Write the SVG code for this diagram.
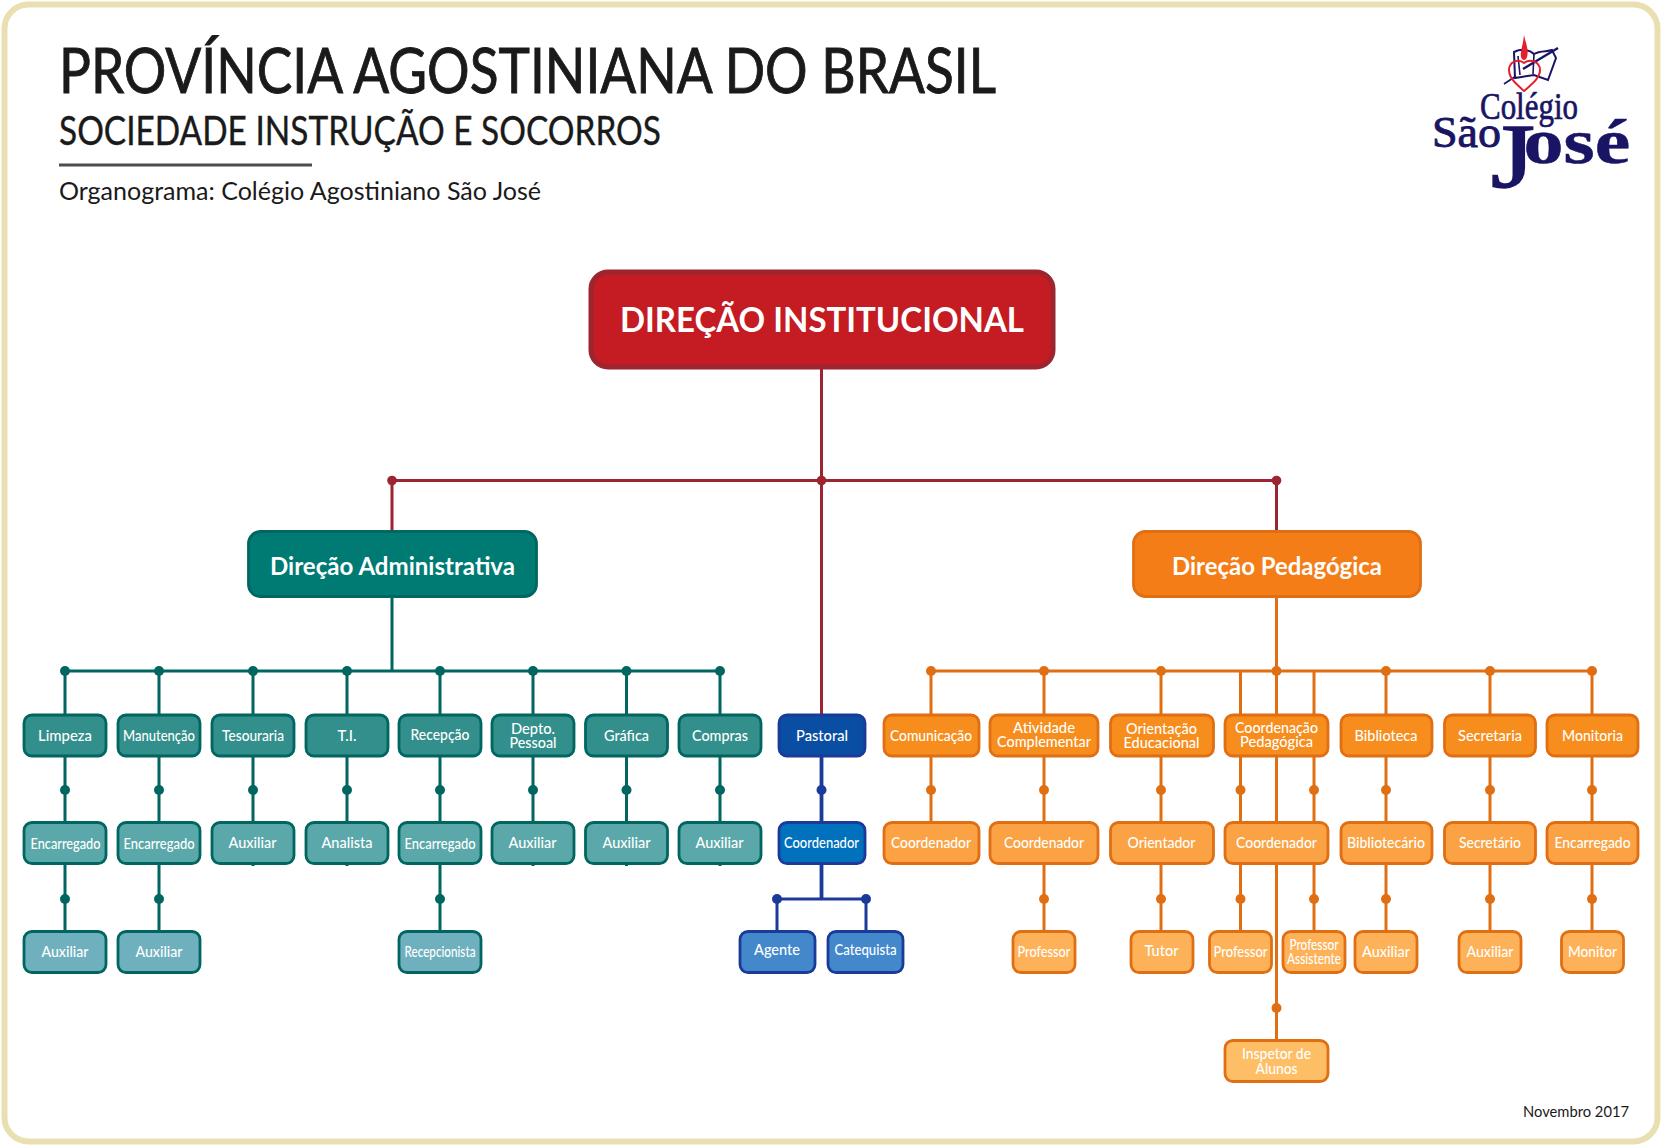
<svg xmlns="http://www.w3.org/2000/svg" width="1662" height="1146" viewBox="0 0 1662 1146">
<style>
text{font-family:"Lato","Noto Sans","Liberation Sans",sans-serif}
.t{fill:#fff;font-size:15px;font-weight:500;text-anchor:middle}
.n rect{stroke-width:2.8}
.a1{fill:#338f8b;stroke:#00665f}.a2{fill:#5aa8a9;stroke:#00665f}.a3{fill:#6eb0bd;stroke:#00665f}
.o1{fill:#f78d1c;stroke:#e06f14}.o2{fill:#fba244;stroke:#e06f14}.o3{fill:#fdb259;stroke:#e06f14}.o4{fill:#fdbe66;stroke:#e06f14}
.b1{fill:#0a4ea3;stroke:#1b3a9a}.b2{fill:#0071bc;stroke:#1b3a9a}.b3{fill:#4488cc;stroke:#1b3a9a}
.c{fill:none;stroke-width:3}
.dt{fill:#00665f}.do{fill:#e06f14}.db{fill:#1b3a9a}.dr{fill:#9c2530}
.h{fill:#1a1a1a}
.lg{fill:#1a1464;stroke:#1a1464;font-family:"Liberation Serif",serif}
</style>
<rect x="4.5" y="4.5" width="1653" height="1137" rx="24" fill="#fff" stroke="#e9dfb0" stroke-width="6"/>
<g id="header">
<text class="h" x="59" y="93" font-size="62" textLength="937" lengthAdjust="spacingAndGlyphs" stroke="#1a1a1a" stroke-width="0.9">PROVÍNCIA AGOSTINIANA DO BRASIL</text>
<text class="h" x="59" y="145" font-size="41" textLength="602" lengthAdjust="spacingAndGlyphs" stroke="#1a1a1a" stroke-width="0.4">SOCIEDADE INSTRUÇÃO E SOCORROS</text>
<rect x="59" y="163.5" width="253" height="3" fill="#4d4d4d"/>
<text class="h" x="59" y="200" font-size="25.5" textLength="482" lengthAdjust="spacingAndGlyphs">Organograma: Colégio Agostiniano São José</text>
<text class="h" x="1523" y="1117" font-size="15" textLength="106" lengthAdjust="spacingAndGlyphs">Novembro 2017</text>
</g>
<g id="logo">
<path d="M1514 52C1522 48 1530 50 1534 54C1540 50 1548 52 1552 50L1556 58L1548 80L1534 75L1515 78Z" fill="none" stroke="#1a1464" stroke-width="2"/>
<path d="M1518 56L1520 75M1534 54L1533 74M1504 84L1516 76" fill="none" stroke="#1a1464" stroke-width="1.6"/>
<path d="M1523 69L1558 48" fill="none" stroke="#1a1464" stroke-width="2.4"/>
<path d="M1524 91C1516 84 1509 78 1509 70C1509 62 1518 58 1524 63C1530 58 1540 62 1540 70C1540 78 1532 84 1524 91Z" fill="none" stroke="#e3202c" stroke-width="2"/>
<path d="M1524 35C1526 44 1529 50 1527 57C1526 61 1522 61 1521 57C1520 51 1523 46 1524 35Z" fill="#e3202c"/>
<text class="lg" x="1480" y="119" font-size="38" textLength="98" lengthAdjust="spacingAndGlyphs" stroke-width="0.7">Colégio</text>
<text class="lg" x="1432" y="147" font-size="45" textLength="69" lengthAdjust="spacingAndGlyphs" stroke-width="0.9">São</text>
<text class="lg" transform="translate(1491,187) scale(1.25,1)" stroke-width="0.5"><tspan font-size="90" stroke-width="1.6">J</tspan><tspan font-size="64" font-weight="700" dx="-9" dy="-24">osé</tspan></text>
</g>
<g id="connectors">
<path class="c" stroke="#9c2530" d="M392 480.5H1276.5M392 480.5V530M1276.5 480.5V530M821.5 369V714"/>
<path class="c" stroke="#00665f" d="M65 671H720M392 598V671M65 671V931M159 671V931M253 671V866M347 671V866M440 671V931M533 671V866M626.5 671V866M720 671V866"/>
<path class="c" stroke="#1b3a9a" style="stroke-width:3.8" d="M821.5 757V899"/>
<path class="c" stroke="#1b3a9a" d="M777 899H866M777 899V931M866 899V931"/>
<path class="c" stroke="#e06f14" d="M931 671H1592M1276.5 598V1040M931 671V822M1044 671V931M1161 671V931M1240.5 671V931M1314 671V931M1386 671V931M1490 671V931M1592 671V931"/>
<g class="dr"><circle cx="392" cy="480.5" r="4.8"/><circle cx="821.5" cy="480.5" r="4.8"/><circle cx="1276.5" cy="480.5" r="4.8"/></g>
<g class="dt"><circle cx="65" cy="671" r="5"/><circle cx="159" cy="671" r="5"/><circle cx="253" cy="671" r="5"/><circle cx="347" cy="671" r="5"/><circle cx="440" cy="671" r="5"/><circle cx="533" cy="671" r="5"/><circle cx="626.5" cy="671" r="5"/><circle cx="720" cy="671" r="5"/>
<circle cx="65" cy="790" r="5"/><circle cx="159" cy="790" r="5"/><circle cx="253" cy="790" r="5"/><circle cx="347" cy="790" r="5"/><circle cx="440" cy="790" r="5"/><circle cx="533" cy="790" r="5"/><circle cx="626.5" cy="790" r="5"/><circle cx="720" cy="790" r="5"/>
<circle cx="65" cy="899" r="5"/><circle cx="159" cy="899" r="5"/><circle cx="440" cy="899" r="5"/></g>
<g class="db"><circle cx="821.5" cy="790" r="5"/><circle cx="777" cy="899" r="5"/><circle cx="866" cy="899" r="5"/></g>
<g class="do"><circle cx="931" cy="671" r="5"/><circle cx="1044" cy="671" r="5"/><circle cx="1161" cy="671" r="5"/><circle cx="1276.5" cy="671" r="5"/><circle cx="1386" cy="671" r="5"/><circle cx="1490" cy="671" r="5"/><circle cx="1592" cy="671" r="5"/>
<circle cx="931" cy="790" r="5"/><circle cx="1044" cy="790" r="5"/><circle cx="1161" cy="790" r="5"/><circle cx="1240.5" cy="790" r="5"/><circle cx="1314" cy="790" r="5"/><circle cx="1386" cy="790" r="5"/><circle cx="1490" cy="790" r="5"/><circle cx="1592" cy="790" r="5"/>
<circle cx="1044" cy="899" r="5"/><circle cx="1161" cy="899" r="5"/><circle cx="1240.5" cy="899" r="5"/><circle cx="1314" cy="899" r="5"/><circle cx="1386" cy="899" r="5"/><circle cx="1490" cy="899" r="5"/><circle cx="1592" cy="899" r="5"/><circle cx="1276.5" cy="1008" r="5"/></g>
</g>
<g id="direcao-institucional" class="n"><rect x="591" y="272" width="462" height="95" rx="17" fill="#c41c22" stroke="#9c2530" style="stroke-width:5"/><text x="822" y="332" font-size="34" font-weight="700" fill="#fff" text-anchor="middle" textLength="404" lengthAdjust="spacingAndGlyphs">DIREÇÃO INSTITUCIONAL</text></g>
<g id="direcao-administrativa" class="n"><rect x="248.5" y="531.5" width="288" height="65" rx="12" fill="#007b74" stroke="#00665f"/><text x="392.5" y="575" font-size="24" font-weight="700" fill="#fff" text-anchor="middle" textLength="245" lengthAdjust="spacingAndGlyphs">Direção Administrativa</text></g>
<g id="direcao-pedagogica" class="n"><rect x="1133.5" y="531.5" width="287" height="65" rx="12" fill="#f47d18" stroke="#e06f14"/><text x="1277" y="575" font-size="24" font-weight="700" fill="#fff" text-anchor="middle" textLength="210" lengthAdjust="spacingAndGlyphs">Direção Pedagógica</text></g>

<g id="limpeza" class="n"><rect class="a1" x="24" y="715" width="82" height="41" rx="8"/><text class="t" x="65" y="741" textLength="54" lengthAdjust="spacingAndGlyphs">Limpeza</text></g>
<g id="manutencao" class="n"><rect class="a1" x="118" y="715" width="82" height="41" rx="8"/><text class="t" x="159" y="741" textLength="72" lengthAdjust="spacingAndGlyphs">Manutenção</text></g>
<g id="tesouraria" class="n"><rect class="a1" x="212" y="715" width="82" height="41" rx="8"/><text class="t" x="253" y="741" textLength="62" lengthAdjust="spacingAndGlyphs">Tesouraria</text></g>
<g id="ti" class="n"><rect class="a1" x="306" y="715" width="82" height="41" rx="8"/><text class="t" x="347" y="741" textLength="19" lengthAdjust="spacingAndGlyphs">T.I.</text></g>
<g id="recepcao" class="n"><rect class="a1" x="399" y="715" width="82" height="41" rx="8"/><text class="t" x="440" y="740" textLength="59" lengthAdjust="spacingAndGlyphs">Recepção</text></g>
<g id="depto-pessoal" class="n"><rect class="a1" x="492" y="715" width="82" height="41" rx="8"/><text class="t" x="533" y="734" textLength="44" lengthAdjust="spacingAndGlyphs">Depto.</text><text class="t" x="533" y="748" textLength="47" lengthAdjust="spacingAndGlyphs">Pessoal</text></g>
<g id="grafica" class="n"><rect class="a1" x="585.5" y="715" width="82" height="41" rx="8"/><text class="t" x="626.5" y="741" textLength="45" lengthAdjust="spacingAndGlyphs">Gráfica</text></g>
<g id="compras" class="n"><rect class="a1" x="679" y="715" width="82" height="41" rx="8"/><text class="t" x="720" y="741" textLength="56" lengthAdjust="spacingAndGlyphs">Compras</text></g>

<g id="encarregado-1" class="n"><rect class="a2" x="24" y="822.5" width="82" height="41" rx="8"/><text class="t" x="65.5" y="849" textLength="70" lengthAdjust="spacingAndGlyphs">Encarregado</text></g>
<g id="encarregado-2" class="n"><rect class="a2" x="118" y="822.5" width="82" height="41" rx="8"/><text class="t" x="159" y="849" textLength="71" lengthAdjust="spacingAndGlyphs">Encarregado</text></g>
<g id="auxiliar-tes" class="n"><rect class="a2" x="212" y="822.5" width="82" height="41" rx="8"/><text class="t" x="252.5" y="848" textLength="48" lengthAdjust="spacingAndGlyphs">Auxiliar</text></g>
<g id="analista" class="n"><rect class="a2" x="306" y="822.5" width="82" height="41" rx="8"/><text class="t" x="347" y="848" textLength="51" lengthAdjust="spacingAndGlyphs">Analista</text></g>
<g id="encarregado-3" class="n"><rect class="a2" x="399" y="822.5" width="82" height="41" rx="8"/><text class="t" x="440" y="849" textLength="71" lengthAdjust="spacingAndGlyphs">Encarregado</text></g>
<g id="auxiliar-dep" class="n"><rect class="a2" x="492" y="822.5" width="82" height="41" rx="8"/><text class="t" x="532.5" y="848" textLength="48" lengthAdjust="spacingAndGlyphs">Auxiliar</text></g>
<g id="auxiliar-gra" class="n"><rect class="a2" x="585.5" y="822.5" width="82" height="41" rx="8"/><text class="t" x="626.5" y="848" textLength="48" lengthAdjust="spacingAndGlyphs">Auxiliar</text></g>
<g id="auxiliar-com" class="n"><rect class="a2" x="679" y="822.5" width="82" height="41" rx="8"/><text class="t" x="719.5" y="848" textLength="48" lengthAdjust="spacingAndGlyphs">Auxiliar</text></g>

<g id="auxiliar-lim" class="n"><rect class="a3" x="24" y="931.5" width="82" height="41" rx="8"/><text class="t" x="65" y="957" textLength="47" lengthAdjust="spacingAndGlyphs">Auxiliar</text></g>
<g id="auxiliar-man" class="n"><rect class="a3" x="118" y="931.5" width="82" height="41" rx="8"/><text class="t" x="159" y="957" textLength="47" lengthAdjust="spacingAndGlyphs">Auxiliar</text></g>
<g id="recepcionista" class="n"><rect class="a3" x="399" y="931.5" width="82" height="41" rx="8"/><text class="t" x="440" y="957" textLength="71" lengthAdjust="spacingAndGlyphs">Recepcionista</text></g>

<g id="pastoral" class="n"><rect class="b1" x="779" y="715" width="86" height="41" rx="8"/><text class="t" x="822" y="741" textLength="52" lengthAdjust="spacingAndGlyphs">Pastoral</text></g>
<g id="coordenador-pas" class="n"><rect class="b2" x="779" y="822.5" width="86" height="41" rx="8"/><text class="t" x="821.5" y="848" textLength="75" lengthAdjust="spacingAndGlyphs">Coordenador</text></g>
<g id="agente" class="n"><rect class="b3" x="740" y="931.5" width="75" height="41" rx="8"/><text class="t" x="777" y="955" textLength="46" lengthAdjust="spacingAndGlyphs">Agente</text></g>
<g id="catequista" class="n"><rect class="b3" x="828" y="931.5" width="75" height="41" rx="8"/><text class="t" x="865.5" y="955" textLength="62" lengthAdjust="spacingAndGlyphs">Catequista</text></g>

<g id="comunicacao" class="n"><rect class="o1" x="884" y="715" width="95" height="41" rx="8"/><text class="t" x="931" y="741" textLength="82" lengthAdjust="spacingAndGlyphs">Comunicação</text></g>
<g id="atividade" class="n"><rect class="o1" x="990" y="715" width="108" height="41" rx="8"/><text class="t" x="1044" y="733" textLength="62" lengthAdjust="spacingAndGlyphs">Atividade</text><text class="t" x="1044" y="747" textLength="94" lengthAdjust="spacingAndGlyphs">Complementar</text></g>
<g id="orientacao" class="n"><rect class="o1" x="1110.5" y="715" width="103" height="41" rx="8"/><text class="t" x="1161.5" y="734" textLength="71" lengthAdjust="spacingAndGlyphs">Orientação</text><text class="t" x="1161.5" y="748" textLength="76" lengthAdjust="spacingAndGlyphs">Educacional</text></g>
<g id="coordenacao" class="n"><rect class="o1" x="1225" y="715" width="103" height="41" rx="8"/><text class="t" x="1276.5" y="733" textLength="83" lengthAdjust="spacingAndGlyphs">Coordenação</text><text class="t" x="1276.5" y="747" textLength="73" lengthAdjust="spacingAndGlyphs">Pedagógica</text></g>
<g id="biblioteca" class="n"><rect class="o1" x="1341" y="715" width="91" height="41" rx="8"/><text class="t" x="1386" y="741" textLength="63" lengthAdjust="spacingAndGlyphs">Biblioteca</text></g>
<g id="secretaria" class="n"><rect class="o1" x="1444.5" y="715" width="91" height="41" rx="8"/><text class="t" x="1490" y="741" textLength="64" lengthAdjust="spacingAndGlyphs">Secretaria</text></g>
<g id="monitoria" class="n"><rect class="o1" x="1547" y="715" width="91" height="41" rx="8"/><text class="t" x="1592.5" y="741" textLength="61" lengthAdjust="spacingAndGlyphs">Monitoria</text></g>

<g id="coordenador-com" class="n"><rect class="o2" x="884" y="822.5" width="95" height="41" rx="8"/><text class="t" x="931" y="848" textLength="80" lengthAdjust="spacingAndGlyphs">Coordenador</text></g>
<g id="coordenador-ati" class="n"><rect class="o2" x="990" y="822.5" width="108" height="41" rx="8"/><text class="t" x="1044" y="848" textLength="80" lengthAdjust="spacingAndGlyphs">Coordenador</text></g>
<g id="orientador" class="n"><rect class="o2" x="1110.5" y="822.5" width="103" height="41" rx="8"/><text class="t" x="1161.5" y="848" textLength="68" lengthAdjust="spacingAndGlyphs">Orientador</text></g>
<g id="coordenador-ped" class="n"><rect class="o2" x="1225" y="822.5" width="103" height="41" rx="8"/><text class="t" x="1276.5" y="848" textLength="81" lengthAdjust="spacingAndGlyphs">Coordenador</text></g>
<g id="bibliotecario" class="n"><rect class="o2" x="1341" y="822.5" width="91" height="41" rx="8"/><text class="t" x="1386" y="848" textLength="78" lengthAdjust="spacingAndGlyphs">Bibliotecário</text></g>
<g id="secretario" class="n"><rect class="o2" x="1444.5" y="822.5" width="91" height="41" rx="8"/><text class="t" x="1490" y="848" textLength="62" lengthAdjust="spacingAndGlyphs">Secretário</text></g>
<g id="encarregado-mon" class="n"><rect class="o2" x="1547" y="822.5" width="91" height="41" rx="8"/><text class="t" x="1592.5" y="848" textLength="76" lengthAdjust="spacingAndGlyphs">Encarregado</text></g>

<g id="professor-ati" class="n"><rect class="o3" x="1013" y="931.5" width="62" height="41" rx="8"/><text class="t" x="1044" y="957" textLength="53" lengthAdjust="spacingAndGlyphs">Professor</text></g>
<g id="tutor" class="n"><rect class="o3" x="1131" y="931.5" width="62" height="41" rx="8"/><text class="t" x="1161.5" y="956" textLength="34" lengthAdjust="spacingAndGlyphs">Tutor</text></g>
<g id="professor-ped" class="n"><rect class="o3" x="1209.5" y="931.5" width="62" height="41" rx="8"/><text class="t" x="1240.5" y="957" textLength="54" lengthAdjust="spacingAndGlyphs">Professor</text></g>
<g id="professor-assistente" class="n"><rect class="o3" x="1283" y="931.5" width="62" height="41" rx="8"/><text class="t" x="1314" y="950" textLength="49" lengthAdjust="spacingAndGlyphs">Professor</text><text class="t" x="1314" y="964" textLength="54" lengthAdjust="spacingAndGlyphs">Assistente</text></g>
<g id="auxiliar-bib" class="n"><rect class="o3" x="1355" y="931.5" width="62" height="41" rx="8"/><text class="t" x="1386" y="957" textLength="48" lengthAdjust="spacingAndGlyphs">Auxiliar</text></g>
<g id="auxiliar-sec" class="n"><rect class="o3" x="1459" y="931.5" width="62" height="41" rx="8"/><text class="t" x="1490" y="957" textLength="47" lengthAdjust="spacingAndGlyphs">Auxiliar</text></g>
<g id="monitor" class="n"><rect class="o3" x="1561.5" y="931.5" width="62" height="41" rx="8"/><text class="t" x="1592.5" y="957" textLength="49" lengthAdjust="spacingAndGlyphs">Monitor</text></g>
<g id="inspetor" class="n"><rect class="o4" x="1225" y="1040.5" width="103" height="41" rx="8"/><text class="t" x="1276.5" y="1059" textLength="69" lengthAdjust="spacingAndGlyphs">Inspetor de</text><text class="t" x="1276.5" y="1074" textLength="42" lengthAdjust="spacingAndGlyphs">Alunos</text></g>
</svg>
